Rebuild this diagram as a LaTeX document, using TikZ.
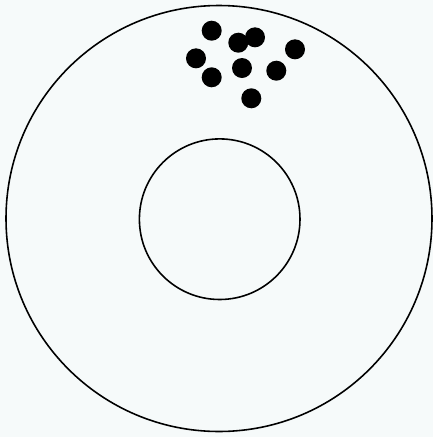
\documentclass[tikz,border=0pt]{standalone}
\usepackage{tikz}
\definecolor{paper}{RGB}{246,250,250}
\tikzset{
  ring/.style={draw=black,line width=1.35pt},
  particle/.style={circle,fill=black,inner sep=0pt,minimum size=0.6cm}
}
\begin{document}
\begin{tikzpicture}[x=0.03cm,y=-0.03cm]
				% page
				\fill[paper] (0,0) rectangle (433,437);
				\useasboundingbox (0,0) rectangle (433,437);
				% the outer and the inner circle
				\draw[ring] (219,218.5) circle (213*0.03cm);
				\draw[ring] (219.7,219.2) circle (80.3*0.03cm);
				% the cluster of particles
				\node[particle] (p1) at (211.7,30.7) {};
				\node[particle] (p2) at (238.3,42.7) {};
				\node[particle] (p3) at (255,37.3) {};
				\node[particle] (p4) at (295,49.3) {};
				\node[particle] (p5) at (196,58.3) {};
				\node[particle] (p6) at (242,68) {};
				\node[particle] (p7) at (276.3,70.7) {};
				\node[particle] (p8) at (211.7,77.3) {};
				\node[particle] (p9) at (251.3,98.3) {};
			\end{tikzpicture}
\end{document}
